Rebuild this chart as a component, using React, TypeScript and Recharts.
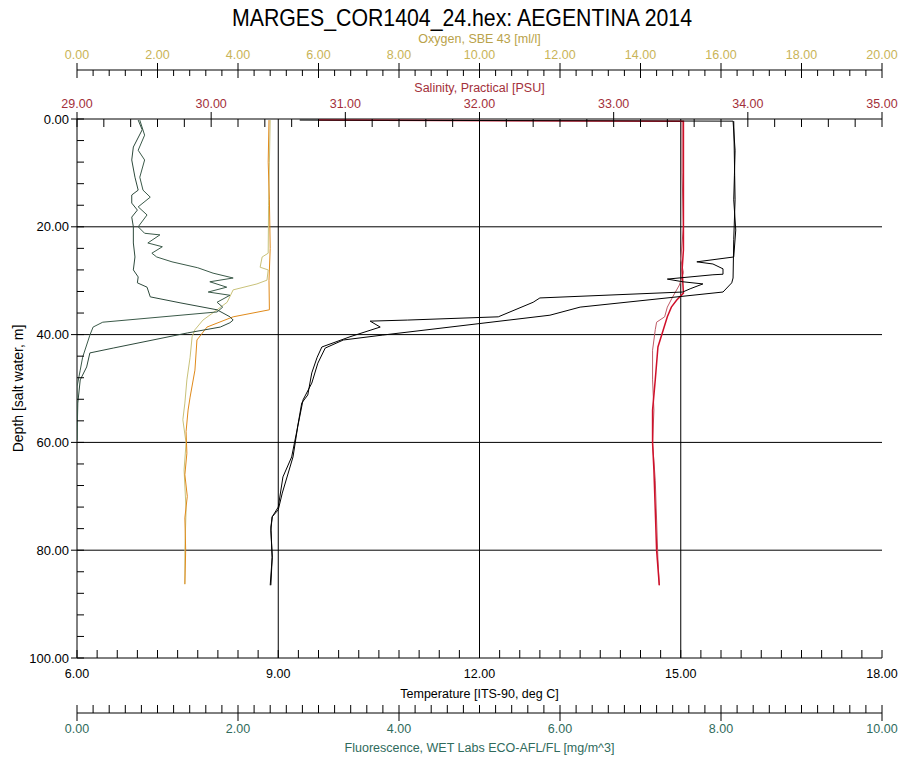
import React from 'react';
import { ScatterChart, Scatter, XAxis, YAxis, ReferenceLine } from 'recharts';

type Pt = [number, number]; // [depth m, value]

// Temperature [ITS-90, deg C], two casts
const tempCastA: Pt[] = [
  [0.2, 9.32], [0.4, 15.78], [5.8, 15.81], [10.5, 15.8], [15.0, 15.79], [20.6, 15.82], [25.6, 15.79],
  [26.5, 15.24], [26.9, 15.48], [27.8, 15.63], [28.8, 15.63], [28.9, 15.48], [29.7, 14.8], [30.2, 15.03],
  [30.6, 15.33], [31.5, 15.14], [32.1, 15.03], [33.2, 12.9], [34.0, 12.8], [36.7, 12.28], [37.3, 10.93],
  [37.5, 10.37], [38.6, 10.52], [40.4, 10.07], [42.3, 9.65], [44.2, 9.58], [47.1, 9.5], [51.2, 9.44],
  [52.7, 9.35], [57.7, 9.28], [62.7, 9.2], [66.4, 9.07], [72.0, 9.0], [73.8, 8.91], [76.3, 8.89],
  [81.3, 8.91], [86.5, 8.88],
];
const tempCastB: Pt[] = [
  [0.4, 15.79], [7.6, 15.8], [15.0, 15.81], [22.4, 15.79], [29.5, 15.78], [30.4, 15.76], [32.1, 15.63],
  [34.9, 13.5], [36.4, 13.05], [40.1, 10.55], [41.0, 9.97], [42.5, 9.7], [45.3, 9.59], [49.0, 9.5],
  [52.1, 9.37], [57.1, 9.29], [62.7, 9.22], [69.4, 9.06], [72.5, 9.0], [73.8, 8.91], [75.7, 8.89],
  [81.3, 8.91], [86.5, 8.89],
];

// Salinity, Practical [PSU]
const salCastA: Pt[] = [
  [0.2, 30.8], [0.4, 33.52], [8, 33.52], [15, 33.52], [24.3, 33.52], [28, 33.51], [32.3, 33.52],
  [33.6, 33.47], [34.9, 33.43], [36.7, 33.4], [39.1, 33.37], [42.3, 33.33], [48.4, 33.31], [54, 33.29],
  [60.1, 33.29], [65.1, 33.3], [72.5, 33.31], [80, 33.32], [86.5, 33.34],
];
const salCastB: Pt[] = [
  [0.4, 33.51], [10, 33.51], [20, 33.52], [26, 33.5], [28.5, 33.52], [30.8, 33.49], [33.0, 33.44],
  [34.9, 33.4], [36.7, 33.38], [37.7, 33.32], [39.1, 33.31], [42.9, 33.29], [48.4, 33.29], [54, 33.3],
  [60.1, 33.29], [67, 33.31], [74.4, 33.32], [81.8, 33.33], [86.5, 33.34],
];

// Oxygen, SBE 43 [ml/l]
const oxyCastA: Pt[] = [
  [0.2, 4.77], [8, 4.75], [15, 4.78], [24, 4.8], [30, 4.77], [35.4, 4.78], [36.7, 3.88], [38.6, 3.23],
  [41.0, 2.98], [46.6, 2.93], [51.6, 2.81], [54.0, 2.76], [58, 2.71], [62, 2.73], [66, 2.68], [70, 2.74],
  [74, 2.68], [80, 2.7], [86.3, 2.68],
];
const oxyCastB: Pt[] = [
  [0.2, 4.8], [8, 4.78], [16, 4.76], [24.9, 4.75], [25.6, 4.6], [27.5, 4.55], [28.0, 4.75], [29.9, 4.72],
  [30.6, 4.47], [31.7, 3.88], [34.0, 3.73], [35.4, 3.48], [37.3, 3.13], [39.1, 2.93], [40.4, 2.86],
  [44.2, 2.81], [48.4, 2.73], [52.7, 2.68], [55.8, 2.63], [60.1, 2.71], [65.1, 2.66], [72.5, 2.71],
  [80, 2.68], [86.3, 2.68],
];

// Fluorescence, WET Labs ECO-AFL/FL [mg/m^3]
const fluoCastA: Pt[] = [
  [0.2, 0.76], [2.0, 0.81], [5.2, 0.7], [7.6, 0.68], [10.8, 0.72], [13.2, 0.76], [14.1, 0.68], [15.6, 0.68],
  [16.9, 0.75], [18.2, 0.68], [20.0, 0.7], [23.0, 0.7], [25.6, 0.72], [28.0, 0.7], [29.3, 0.76], [30.4, 0.75],
  [31.2, 0.87], [33.0, 0.91], [34.1, 1.28], [35.4, 1.74], [36.7, 1.9], [37.3, 1.94], [37.8, 1.9], [38.6, 1.78],
  [39.7, 1.37], [42.5, 0.45], [43.4, 0.16], [46.0, 0.12], [48.4, 0.04], [52.7, 0.01], [59.6, 0.0],
];
const fluoCastB: Pt[] = [
  [0.2, 0.78], [3.0, 0.84], [5.8, 0.76], [7.6, 0.84], [10.8, 0.78], [13.2, 0.82], [14.5, 0.91], [16.3, 0.76],
  [17.8, 0.87], [20.0, 0.76], [21.2, 0.84], [21.5, 1.03], [23.0, 0.88], [23.7, 1.06], [24.9, 0.93], [25.6, 0.99],
  [26.5, 1.18], [27.6, 1.5], [28.6, 1.69], [29.5, 1.94], [30.2, 1.65], [31.2, 1.86], [32.1, 1.63], [32.7, 1.9],
  [34.0, 1.74], [34.9, 1.81], [35.8, 1.74], [37.7, 0.32], [38.6, 0.2], [40.1, 0.16], [44.2, 0.07], [46.6, 0.04],
  [49.7, 0.0], [59.6, 0.0],
];

// axis ticks: labelled majors and the minor step between them
const depthMajor = [0, 20, 40, 60, 80, 100];
const tempMajor = [6, 9, 12, 15, 18];
const fluoMajor = [0, 2, 4, 6, 8, 10];
const salMajor = [29, 30, 31, 32, 33, 34, 35];
const oxyMajor = [0, 2, 4, 6, 8, 10, 12, 14, 16, 18, 20];
const tempGrid = [9, 12, 15];
const depthGrid = [20, 40, 60, 80];

const FONT = '"Liberation Sans", Arial, Helvetica, sans-serif';
const OXY_COLOR = '#c9b457';
const SAL_COLOR = '#a3303a';
const FLUO_COLOR = '#2f6b5c';

// axis ids sort so the inner axis comes first
const T_AX = 'a_temp';
const F_AX = 'b_fluo';
const S_AX = 'a_sal';
const O_AX = 'b_oxy';

const withMinor = (major: number[], parts: number) => {
  const out: number[] = [];
  for (let i = 0; i < major.length - 1; i++) {
    const step = (major[i + 1] - major[i]) / parts;
    for (let k = 0; k < parts; k++) out.push(+(major[i] + k * step).toFixed(4));
  }
  out.push(major[major.length - 1]);
  return out;
};

const isMajor = (majors: number[], v: number) => majors.some((m) => Math.abs(m - v) < 1e-6);
const toRows = (pts: Pt[]) => pts.map(([d, v]) => ({ d, v }));

const topTick = (majors: number[], color: string, minorLen: number) => (p: any) => {
  const { x, y, payload } = p;
  const major = isMajor(majors, payload.value);
  return (
    <g>
      <line x1={x} x2={x} y1={major ? y - 7 : y} y2={y + (major ? 8 : minorLen)} stroke="#000" />
      {major && (
        <text x={x} y={y - 11} textAnchor="middle" fill={color} fontSize={12.5} fontFamily={FONT}>
          {payload.value.toFixed(2)}
        </text>
      )}
    </g>
  );
};

const bottomTick = (majors: number[], color: string, crossMajor: boolean) => (p: any) => {
  const { x, y, payload } = p;
  const major = isMajor(majors, payload.value);
  return (
    <g>
      <line x1={x} x2={x} y1={y - 8} y2={major && crossMajor ? y + 8 : y} stroke="#000" />
      {major && (
        <text x={x} y={y + 20} textAnchor="middle" fill={color} fontSize={12.5} fontFamily={FONT}>
          {payload.value.toFixed(2)}
        </text>
      )}
    </g>
  );
};

const leftTick = (p: any) => {
  const { x, y, payload } = p;
  const major = isMajor(depthMajor, payload.value);
  return (
    <g>
      <line x1={major ? x - 6 : x} x2={x + 7} y1={y} y2={y} stroke="#000" />
      {major && (
        <text x={x - 8} y={y} dy="0.35em" textAnchor="end" fill="#000" fontSize={13} fontFamily={FONT}>
          {payload.value.toFixed(2)}
        </text>
      )}
    </g>
  );
};

const blank = () => <g />;

const series = [
  { id: O_AX, data: oxyCastB, color: '#c9c27a', w: 1 },
  { id: O_AX, data: oxyCastA, color: '#e08a1a', w: 1 },
  { id: F_AX, data: fluoCastA, color: '#2e4a3c', w: 1 },
  { id: F_AX, data: fluoCastB, color: '#3b5a49', w: 1 },
  { id: S_AX, data: salCastB, color: '#bf5a66', w: 1 },
  { id: S_AX, data: salCastA, color: '#d0102a', w: 1.5 },
  { id: T_AX, data: tempCastA, color: '#000000', w: 1 },
  { id: T_AX, data: tempCastB, color: '#000000', w: 1 },
];

export default function App() {
  return (
    <div style={{ position: 'absolute', left: 0, top: 0, width: 904, height: 757, background: '#fff' }}>
      <ScatterChart width={904} height={757} margin={{ top: 25, right: 22, bottom: 0, left: 0 }}>
        <XAxis
          xAxisId={F_AX}
          type="number"
          dataKey="v"
          orientation="bottom"
          domain={[0, 10]}
          allowDataOverflow
          ticks={withMinor(fluoMajor, 10)}
          interval={0}
          height={44}
          tickSize={0}
          tickMargin={0}
          tickLine={false}
          axisLine={{ stroke: '#000' }}
          tick={bottomTick(fluoMajor, FLUO_COLOR, true)}
          label={{ value: 'Fluorescence, WET Labs ECO-AFL/FL [mg/m^3]', position: 'insideBottom', offset: 5, fill: FLUO_COLOR, fontSize: 12.5, fontFamily: FONT }}
        />
        <XAxis
          xAxisId={T_AX}
          type="number"
          dataKey="v"
          orientation="bottom"
          domain={[6, 18]}
          allowDataOverflow
          ticks={withMinor(tempMajor, 10)}
          interval={0}
          height={55}
          tickSize={0}
          tickMargin={0}
          tickLine={false}
          axisLine={{ stroke: '#000' }}
          tick={bottomTick(tempMajor, '#000', false)}
          label={{ value: 'Temperature [ITS-90, deg C]', position: 'insideBottom', offset: 15, fill: '#000', fontSize: 12.5, fontFamily: FONT }}
        />
        <XAxis
          xAxisId={O_AX}
          type="number"
          dataKey="v"
          orientation="top"
          domain={[0, 20]}
          allowDataOverflow
          ticks={withMinor(oxyMajor, 5)}
          interval={0}
          height={45}
          tickSize={0}
          tickMargin={0}
          tickLine={false}
          axisLine={{ stroke: '#000' }}
          tick={topTick(oxyMajor, OXY_COLOR, 6)}
          label={{ value: 'Oxygen, SBE 43 [ml/l]', position: 'insideTop', offset: 9, fill: '#b9a24a', fontSize: 12.5, fontFamily: FONT }}
        />
        <XAxis
          xAxisId={S_AX}
          type="number"
          dataKey="v"
          orientation="top"
          domain={[29, 35]}
          allowDataOverflow
          ticks={withMinor(salMajor, 5)}
          interval={0}
          height={49}
          tickSize={0}
          tickMargin={0}
          tickLine={false}
          axisLine={{ stroke: '#000' }}
          tick={topTick(salMajor, SAL_COLOR, 8)}
          label={{ value: 'Salinity, Practical [PSU]', position: 'insideTop', offset: 13, fill: SAL_COLOR, fontSize: 12.5, fontFamily: FONT }}
        />
        <YAxis
          yAxisId="depth"
          type="number"
          dataKey="d"
          domain={[0, 100]}
          reversed
          allowDataOverflow
          ticks={withMinor(depthMajor, 5)}
          interval={0}
          width={77}
          tickSize={0}
          tickMargin={0}
          tickLine={false}
          axisLine={{ stroke: '#000' }}
          tick={leftTick}
          label={{
            content: (props: any) => {
              const vb = props.viewBox || { x: 0, y: 119, width: 77, height: 539 };
              const cx = vb.x + 18;
              const cy = vb.y + vb.height / 2;
              return (
                <text x={cx} y={cy} dy="0.35em" transform={`rotate(-90 ${cx} ${cy})`} textAnchor="middle" fill="#000" fontSize={14} fontFamily={FONT}>
                  Depth [salt water, m]
                </text>
              );
            },
          }}
        />
        {tempGrid.map((t) => (
          <ReferenceLine key={`vx${t}`} xAxisId={T_AX} yAxisId="depth" x={t} stroke="#000" strokeWidth={1} />
        ))}
        {depthGrid.map((d) => (
          <ReferenceLine key={`hy${d}`} xAxisId={T_AX} yAxisId="depth" y={d} stroke="#000" strokeWidth={1} />
        ))}
        {series.map((s, i) => (
          <Scatter
            key={i}
            xAxisId={s.id}
            yAxisId="depth"
            data={toRows(s.data)}
            fill={s.color}
            line={{ stroke: s.color, strokeWidth: s.w }}
            lineType="joint"
            shape={blank}
            isAnimationActive={false}
          />
        ))}
      </ScatterChart>
      <svg width={904} height={40} style={{ position: 'absolute', left: 0, top: 0, pointerEvents: 'none' }}>
        <text x={462} y={26} textAnchor="middle" fontSize={24} fontFamily={FONT} fill="#000" textLength={460} lengthAdjust="spacingAndGlyphs">
          MARGES_COR1404_24.hex: AEGENTINA 2014
        </text>
      </svg>
    </div>
  );
}
